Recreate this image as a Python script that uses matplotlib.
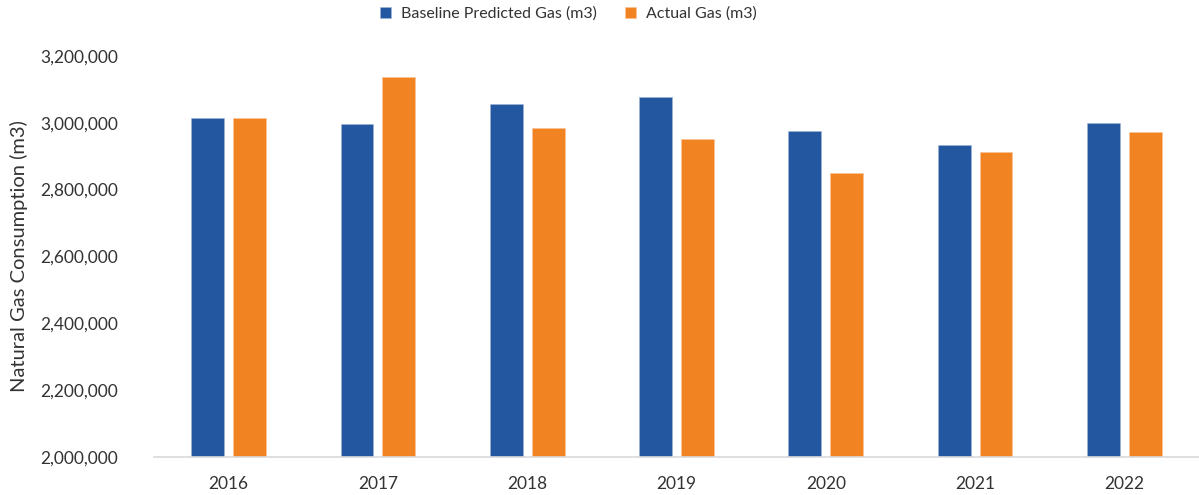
import numpy as np
import matplotlib
matplotlib.use('Agg')
import matplotlib.pyplot as plt
from matplotlib.ticker import FuncFormatter

# Annual gas consumption, baseline model vs metered
years = ['2016', '2017', '2018', '2019', '2020', '2021', '2022']
baseline_gas = [3013000, 2995000, 3055000, 3076000, 2974000, 2933000, 2998000]
actual_gas = [3013000, 3138000, 2983000, 2951000, 2849000, 2911000, 2971000]

series_labels = ['Baseline Predicted Gas (m3)', 'Actual Gas (m3)']
BLUE = '#2358A0'
ORANGE = '#F28322'
TEXT = '#333333'

plt.rcParams['font.family'] = ['Lato', 'DejaVu Sans']

fig = plt.figure(figsize=(11.99, 4.95), dpi=100)
ax = fig.add_axes([0.1284, 0.0768, 0.8716, 0.8103])

x = np.arange(len(years))
width = 0.22
offset = 0.14
ax.bar(x - offset, baseline_gas, width, color=BLUE, label=series_labels[0],
       edgecolor='#9fb6d6', linewidth=0.4)
ax.bar(x + offset, actual_gas, width, color=ORANGE, label=series_labels[1],
       edgecolor='#f8c59a', linewidth=0.4)

ax.set_xlim(-0.5, len(years) - 0.5)
ax.set_ylim(2000000, 3200000)
ax.set_yticks(np.arange(2000000, 3200001, 200000))
ax.yaxis.set_major_formatter(FuncFormatter(lambda v, _: f'{int(v):,}'))
ax.set_xticks(x)
ax.set_xticklabels(years)

ax.tick_params(axis='both', length=0, labelsize=12.5, colors=TEXT)
ax.tick_params(axis='x', pad=14)
ax.tick_params(axis='y', pad=26)

for side in ['top', 'right', 'left']:
    ax.spines[side].set_visible(False)
ax.spines['bottom'].set_color('#d9d9d9')
ax.spines['bottom'].set_linewidth(1.2)

ax.set_ylabel('Natural Gas Consumption (m3)', fontsize=14.5, color=TEXT)
ax.yaxis.set_label_coords(-0.121, 0.5)

fig.legend(handles=ax.containers, labels=series_labels, loc='center',
           bbox_to_anchor=(0.474, 1 - 14 / 495), ncol=2, frameon=False,
           fontsize=11.5, handlelength=0.7, handleheight=0.7,
           handletextpad=0.6, columnspacing=1.8, labelcolor=TEXT)

fig.savefig('out.png', dpi=100)
